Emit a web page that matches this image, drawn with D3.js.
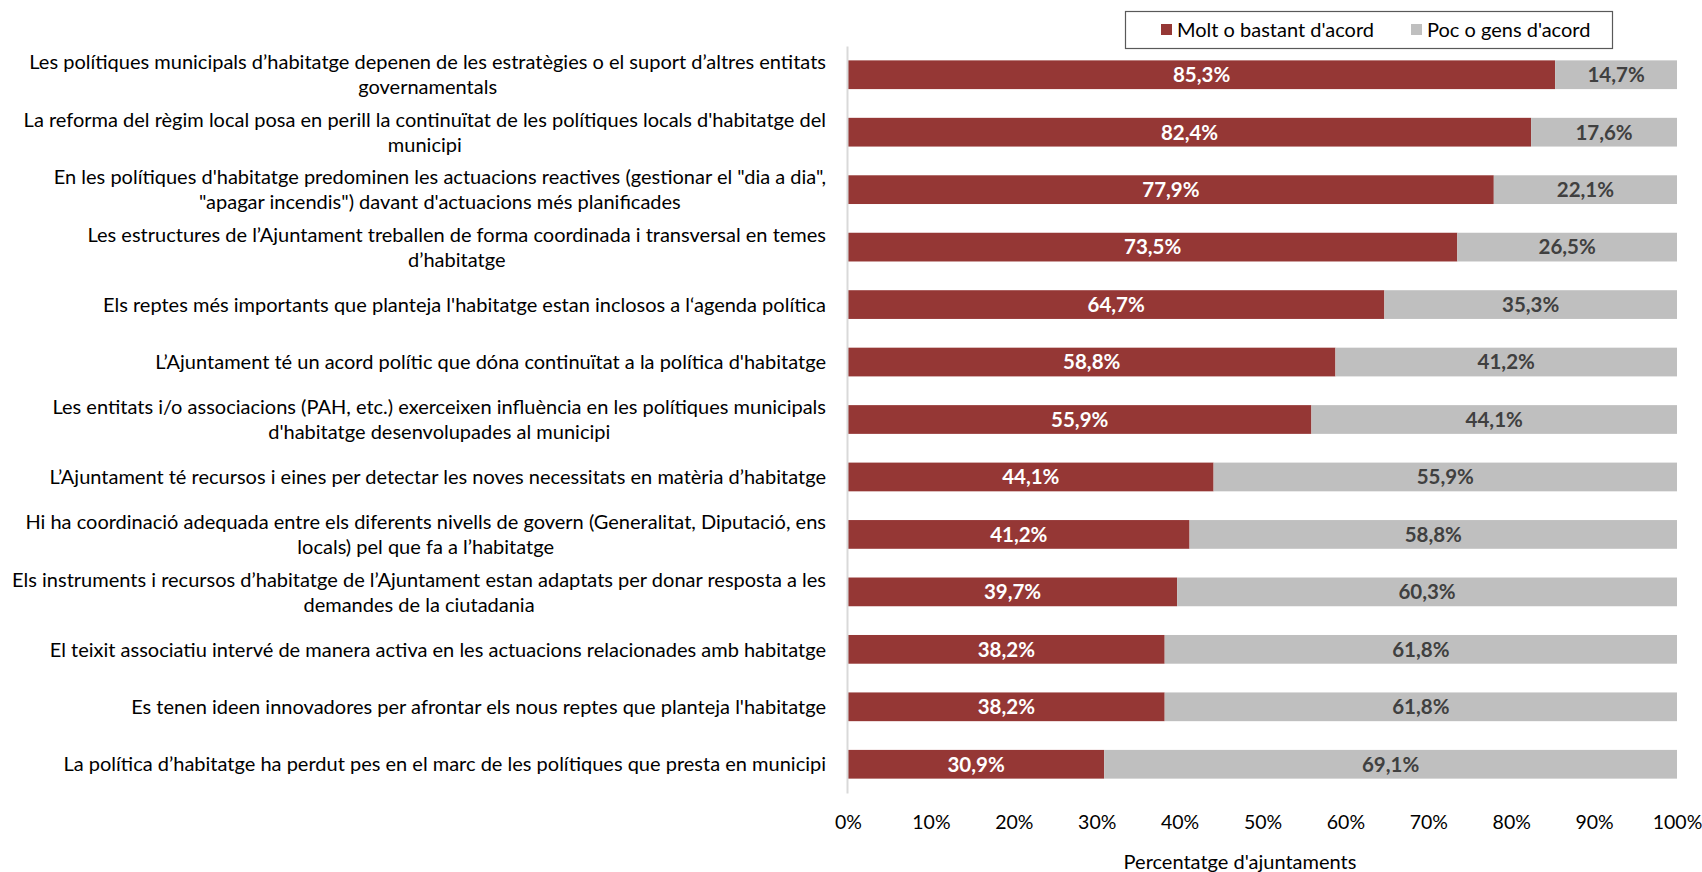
<!DOCTYPE html>
<html>
<head>
<meta charset="utf-8">
<script src="https://cdn.jsdelivr.net/npm/d3@7"></script>
<style>
  html, body { margin: 0; padding: 0; background: #ffffff; }
  svg { display: block; font-family: Lato, "Open Sans", sans-serif; }
</style>
</head>
<body>
<svg id="chart" width="1702" height="872"></svg>
<script>
// Survey statements (each entry holds the wrapped lines of one label)
const categories = [
  ["Les polítiques municipals d’habitatge depenen de les estratègies o el suport d’altres entitats", "governamentals"],
  ["La reforma del règim local posa en perill la continuïtat de les polítiques locals d'habitatge del", "municipi"],
  ["En les polítiques d'habitatge predominen les actuacions reactives (gestionar el \"dia a dia\",", "\"apagar incendis\") davant d'actuacions més planificades"],
  ["Les estructures de l’Ajuntament treballen de forma coordinada i transversal en temes", "d’habitatge"],
  ["Els reptes més importants que planteja l'habitatge estan inclosos a l‘agenda política"],
  ["L’Ajuntament té un acord polític que dóna continuïtat a la política d'habitatge"],
  ["Les entitats i/o associacions (PAH, etc.) exerceixen influència en les polítiques municipals", "d'habitatge desenvolupades al municipi"],
  ["L’Ajuntament té recursos i eines per detectar les noves necessitats en matèria d’habitatge"],
  ["Hi ha coordinació adequada entre els diferents nivells de govern (Generalitat, Diputació, ens", "locals) pel que fa a l’habitatge"],
  ["Els instruments i recursos d’habitatge de l’Ajuntament estan adaptats per donar resposta a les", "demandes de la ciutadania"],
  ["El teixit associatiu intervé de manera activa en les actuacions relacionades amb habitatge"],
  ["Es tenen ideen innovadores per afrontar els nous reptes que planteja l'habitatge"],
  ["La política d’habitatge ha perdut pes en el marc de les polítiques que presta en municipi"]
];

// Share of councils (%) per statement
const agree    = [85.3, 82.4, 77.9, 73.5, 64.7, 58.8, 55.9, 44.1, 41.2, 39.7, 38.2, 38.2, 30.9];
const disagree = [14.7, 17.6, 22.1, 26.5, 35.3, 41.2, 44.1, 55.9, 58.8, 60.3, 61.8, 61.8, 69.1];

const seriesNames = ["Molt o bastant d'acord", "Poc o gens d'acord"];
const seriesColors = ["#953735", "#bfbfbf"];
const labelColors = ["#ffffff", "#404040"];
const xTicks = [0, 10, 20, 30, 40, 50, 60, 70, 80, 90, 100];
const xTitle = "Percentatge d'ajuntaments";

const svg = d3.select("#chart");
const plot = { left: 848, right: 1677, top: 46, bottom: 793 };

const x = d3.scaleLinear().domain([0, 100]).range([plot.left, plot.right]);
const y = d3.scaleBand()
  .domain(d3.range(categories.length))
  .range([plot.top, plot.bottom])
  .paddingInner(0.5)
  .paddingOuter(0.25);

const fmt = v => d3.format(".1f")(v).replace(".", ",") + "%";

// Stacked rows: agree segment first, then disagree
const rows = categories.map((c, i) => ({ i, parts: [
  { s: 0, x0: 0, x1: agree[i], v: agree[i] },
  { s: 1, x0: agree[i], x1: agree[i] + disagree[i], v: disagree[i] }
]}));

const rowG = svg.append("g").selectAll("g").data(rows).join("g");

rowG.selectAll("rect").data(d => d.parts.map(p => ({ ...p, i: d.i }))).join("rect")
  .attr("x", p => x(p.x0))
  .attr("y", p => y(p.i))
  .attr("width", p => x(p.x1) - x(p.x0))
  .attr("height", y.bandwidth())
  .attr("fill", p => seriesColors[p.s]);

rowG.selectAll("text").data(d => d.parts.map(p => ({ ...p, i: d.i }))).join("text")
  .attr("x", p => (x(p.x0) + x(p.x1)) / 2)
  .attr("y", p => y(p.i) + y.bandwidth() / 2)
  .attr("dy", "0.36em")
  .attr("text-anchor", "middle")
  .attr("font-size", 20.5)
  .attr("font-weight", 700)
  .attr("fill", p => labelColors[p.s])
  .text(p => fmt(p.v));

// Vertical category axis line
svg.append("g")
  .attr("transform", `translate(${plot.left - 1},0)`)
  .call(d3.axisLeft(y).tickSize(0).tickFormat(""))
  .call(g => g.select(".domain").attr("stroke", "#d9d9d9").attr("stroke-width", 2))
  .call(g => g.selectAll(".tick").remove());

// Category labels: wrapped lines centred on each other, block right-aligned to the axis
const labelRight = 826;
const lineGap = 25;
const catG = svg.append("g").attr("font-size", 20).attr("fill", "#000");
categories.forEach((lines, i) => {
  const cy = y(i) + y.bandwidth() / 2;
  const t = catG.append("text").attr("text-anchor", "middle");
  const spans = lines.map((ln, k) => t.append("tspan")
    .attr("y", cy + (k - (lines.length - 1) / 2) * lineGap)
    .attr("dy", "0.36em")
    .text(ln));
  const maxW = d3.max(spans, s => s.node().getComputedTextLength());
  spans.forEach(s => s.attr("x", labelRight - maxW / 2));
});

// Bottom value axis
svg.append("g")
  .attr("transform", `translate(0,${plot.bottom})`)
  .call(d3.axisBottom(x).tickValues(xTicks).tickSize(0).tickPadding(22).tickFormat(d => d + "%"))
  .call(g => g.select(".domain").remove())
  .call(g => g.selectAll("text").attr("font-size", 19.5).attr("fill", "#000").attr("font-family", "Lato, sans-serif"));

svg.append("text")
  .attr("x", 1240)
  .attr("y", 869)
  .attr("text-anchor", "middle")
  .attr("font-size", 20)
  .attr("fill", "#000")
  .text(xTitle);

// Legend
const legend = svg.append("g");
legend.append("rect")
  .attr("x", 1125.5).attr("y", 11.5).attr("width", 487).attr("height", 37)
  .attr("fill", "#fff").attr("stroke", "#595959").attr("stroke-width", 1.2);
const legendX = [1161, 1411];
seriesNames.forEach((name, k) => {
  legend.append("rect")
    .attr("x", legendX[k]).attr("y", 24).attr("width", 11).attr("height", 11)
    .attr("fill", seriesColors[k]);
  legend.append("text")
    .attr("x", legendX[k] + 16).attr("y", 30)
    .attr("dy", "0.36em")
    .attr("font-size", 20)
    .attr("fill", "#000")
    .text(name);
});
</script>
</body>
</html>
